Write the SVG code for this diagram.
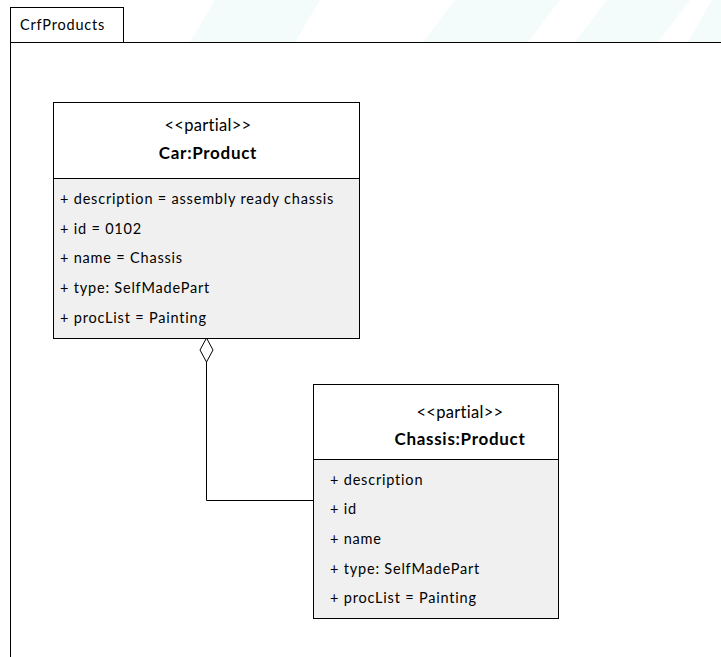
<svg xmlns="http://www.w3.org/2000/svg" width="721" height="657" viewBox="0 0 721 657">
  <style>
    .frame { fill: none; stroke: #000; stroke-width: 1; }
    .head { fill: #fff; stroke: #000; stroke-width: 1; }
    .body { fill: #f0f0f0; stroke: #000; stroke-width: 1; }
    .txt { font-family: Lato, "Open Sans", "Liberation Sans", sans-serif; font-size: 14.5px; letter-spacing: 0.8px; fill: #000; }
    .stereo { font-size: 16.5px; letter-spacing: 0.3px; text-anchor: middle; }
    .name { font-size: 17px; font-weight: bold; letter-spacing: 0.7px; text-anchor: middle; }
    .wm { fill: #f3fcfa; }
    .conn { fill: none; stroke: #000; stroke-width: 1; }
  </style>

  <!-- faint background bands -->
  <rect width="721" height="657" fill="#fff"/>
  <g id="backdrop">
    <polygon class="wm" points="423,42 455,0 560,0 528,42"/>
    <polygon class="wm" points="575,42 607,0 690,0 658,42"/>
    <polygon class="wm" points="688,42 712,0 721,0 721,42"/>
    <polygon class="wm" points="190,42 215,0 320,0 295,42"/>
    <polygon class="wm" points="0,100 10,100 10,240 0,240"/>
  </g>

  <!-- package frame -->
  <g id="pkg-CrfProducts">
    <rect x="0" y="42.5" width="721" height="615" fill="#fff"/>
    <rect class="head" x="10.5" y="7.5" width="113" height="35"/>
    <path class="frame" d="M10.5,42.5 H721 M10.5,42.5 V657"/>
    <text class="txt" x="20" y="30" font-size="14">CrfProducts</text>
  </g>

  <!-- connectors -->
  <g id="connectors">
    <path class="conn" d="M206.5,362 V500.5 H313"/>
    <polygon points="206.5,338 213,350 206.5,362 200,350" fill="#fff" stroke="#000" stroke-width="1"/>
  </g>

  <!-- Car:Product -->
  <g id="node-car">
    <rect class="head" x="53.5" y="102.5" width="306" height="76"/>
    <rect class="body" x="53.5" y="178.5" width="306" height="160"/>
    <text class="txt stereo" x="208" y="131">&lt;&lt;partial&gt;&gt;</text>
    <text class="txt name" x="208" y="159">Car:Product</text>
    <text class="txt" x="60" y="204">+ description = assembly ready chassis</text>
    <text class="txt" x="60" y="234">+ id = 0102</text>
    <text class="txt" x="60" y="263">+ name = Chassis</text>
    <text class="txt" x="60" y="293">+ type: SelfMadePart</text>
    <text class="txt" x="60" y="323">+ procList = Painting</text>
  </g>

  <!-- Chassis:Product -->
  <g id="node-chassis">
    <rect class="head" x="313.5" y="384.5" width="245" height="75"/>
    <rect class="body" x="313.5" y="459.5" width="245" height="159"/>
    <text class="txt stereo" x="460" y="418">&lt;&lt;partial&gt;&gt;</text>
    <text class="txt name" x="460" y="445">Chassis:Product</text>
    <text class="txt" x="330" y="485">+ description</text>
    <text class="txt" x="330" y="514">+ id</text>
    <text class="txt" x="330" y="544">+ name</text>
    <text class="txt" x="330" y="574">+ type: SelfMadePart</text>
    <text class="txt" x="330" y="603">+ procList = Painting</text>
  </g>
</svg>
